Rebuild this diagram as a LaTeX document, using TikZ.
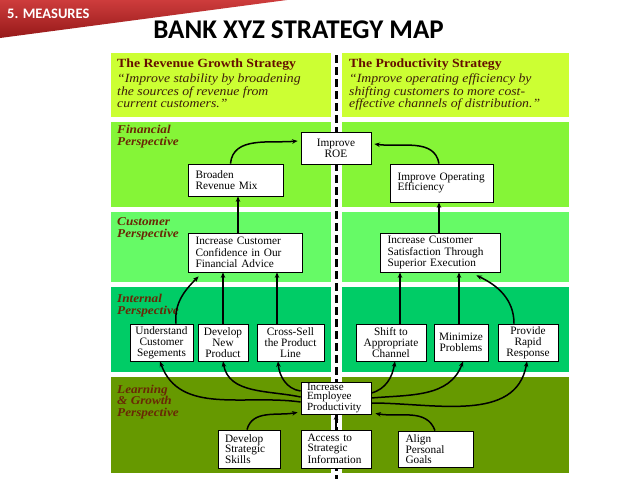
\documentclass[tikz,border=0pt]{standalone}
\usepackage{fontspec}
\setmainfont{Liberation Serif}
\newfontfamily\titlefont{Carlito}
\newfontfamily\stretchfont[FakeStretch=1.1]{Liberation Serif}
\usetikzlibrary{arrows.meta,calc}
\definecolor{stratc}{RGB}{204,255,51}
\definecolor{finc}{RGB}{133,245,55}
\definecolor{custc}{RGB}{102,250,102}
\definecolor{intc}{RGB}{0,204,102}
\definecolor{learnc}{RGB}{102,153,0}
\definecolor{brownc}{RGB}{105,40,5}
\definecolor{headc}{RGB}{100,15,0}
\definecolor{quotec}{RGB}{60,30,10}
\definecolor{bannertop}{RGB}{205,60,60}
\definecolor{bannerbot}{RGB}{150,25,25}
\tikzset{
  bx/.style={draw, fill=white, line width=0.8pt, inner ysep=0pt, font=\fontsize{11.3}{10.8}\selectfont},
  cbox/.style={bx, align=center, inner xsep=0pt},
  lbox/.style={bx, align=left, inner xsep=7.5pt, text width=#1},
  arr/.style={line width=1.5pt, -{Stealth[length=5.5pt,width=4.5pt]}},
  plabel/.style={anchor=north west, inner sep=0pt, align=left, text=brownc,
    font=\stretchfont\bfseries\itshape\fontsize{12}{12}\selectfont},
  strat/.style={anchor=north west, inner sep=0pt, align=left, text=quotec,
    font=\stretchfont\itshape\fontsize{12.5}{12.7}\selectfont},
  dashline/.style={line width=2.5pt, dash pattern=on 8pt off 4pt}
}
\begin{document}
\begin{tikzpicture}[x=1pt,y=1pt]
\useasboundingbox (0,0) rectangle (638,-479);
\fill[white] (0,0) rectangle (638,-479);
% banner
\shade[top color=bannertop, bottom color=bannerbot] (0,0) -- (287,0) -- (0,-38) -- cycle;
\node[anchor=base west, inner sep=0pt, text=white, font=\titlefont\bfseries\fontsize{14.5}{15}\selectfont] (measures) at (7,-18) {5. MEASURES};
\node[anchor=base, inner sep=0pt, font=\titlefont\bfseries\fontsize{27}{27}\selectfont] (title) at (298.5,-38) {BANK XYZ STRATEGY MAP};
% bands
\fill[stratc] (111,-53) rectangle (331,-117);
\fill[stratc] (342,-53) rectangle (569,-117);
\fill[finc] (111,-122) rectangle (331,-207);
\fill[finc] (342,-122) rectangle (569,-207);
\fill[custc] (111,-212) rectangle (331,-282);
\fill[custc] (342,-212) rectangle (569,-282);
\fill[intc] (111,-287) rectangle (331,-372);
\fill[intc] (342,-287) rectangle (569,-372);
\fill[learnc] (111,-377) rectangle (331,-473);
\fill[learnc] (342,-377) rectangle (569,-473);
% dashed divider
\draw[dashline] (336.5,-55) -- (336.5,-479);
% strategy texts
\node[strat] (revstrat) at (117,-58.5) {{\upshape\bfseries\color{headc}The Revenue Growth Strategy}\\[2.3pt]“Improve stability by broadening\\the sources of revenue from\\current customers.”};
\node[strat] (prodstrat) at (349,-58.5) {{\upshape\bfseries\color{headc}The Productivity Strategy}\\[2.3pt]“Improve operating efficiency by\\shifting customers to more cost-\\effective channels of distribution.”};
% perspective labels
\node[plabel] (lfin) at (117,-124.5) {Financial\\Perspective};
\node[plabel] (lcust) at (117,-217.5) {Customer\\Perspective};
\node[plabel] (lint) at (117,-293.5) {Internal\\Perspective};
\node[plabel, font=\stretchfont\bfseries\itshape\fontsize{12}{11.5}\selectfont] (llearn) at (117,-384.5) {Learning\\\& Growth\\Perspective};
% boxes
\node[cbox, minimum width=70, minimum height=32] (roe) at (336,-148) {Improve\\ROE};
\node[lbox=80, minimum width=95, minimum height=32] (broaden) at (235.5,-180) {Broaden\\Revenue Mix};
\node[lbox=88, minimum width=103, minimum height=38] (opeff) at (441.5,-183) {Improve Operating\\Efficiency};
\node[lbox=99, minimum width=114, minimum height=39, font=\fontsize{11.3}{11.8}\selectfont] (custconf) at (245,-252.5) {Increase Customer\\Confidence in Our\\Financial Advice};
\node[lbox=105, minimum width=120, minimum height=39, font=\fontsize{11.3}{11.8}\selectfont] (custsat) at (440,-252.5) {Increase Customer\\Satisfaction Through\\Superior Execution};
\node[cbox, minimum width=63, minimum height=37] (underst) at (161.5,-342.5) {Understand\\Customer\\Segements};
\node[cbox, minimum width=50, minimum height=37] (devnew) at (223,-342.5) {Develop\\New\\Product};
\node[cbox, minimum width=67, minimum height=37] (cross) at (290.5,-342.5) {Cross-Sell\\the Product\\Line};
\node[cbox, minimum width=70, minimum height=37] (shift) at (391,-342.5) {Shift to\\Appropriate\\Channel};
\node[cbox, minimum width=54, minimum height=37] (minim) at (461,-342.5) {Minimize\\Problems};
\node[cbox, minimum width=60, minimum height=37] (rapid) at (528,-342.5) {Provide\\Rapid\\Response};
\node[bx, align=left, inner xsep=6pt, text width=58, minimum width=70, minimum height=32, font=\fontsize{11}{9.6}\selectfont] (emp) at (336,-398) {Increase\\Employee\\Productivity};
\node[lbox=48, inner xsep=7pt, minimum width=62, minimum height=38, font=\fontsize{11.3}{10}\selectfont] (skills) at (249,-449) {Develop\\Strategic\\Skills};
\node[lbox=57, inner xsep=6.5pt, minimum width=70, minimum height=38, font=\fontsize{11.3}{10}\selectfont] (access) at (336,-449) {Access to\\Strategic\\Information};
\node[lbox=60, minimum width=75, minimum height=36, font=\fontsize{11.3}{10}\selectfont] (align) at (435.5,-449) {Align\\Personal\\Goals};
% connectors: financial
\draw[arr] ($(broaden.north)+(-5,0)$) to[out=85,in=185] ($(roe.west)+(-3,7)$);
\draw[arr] ($(opeff.north)+(-2.5,0)$) to[out=100,in=-8] ($(roe.east)+(3,4)$);
% customer -> financial
\draw[arr] ($(custconf.north)+(-7,0)$) -- ($(broaden.south)+(2.5,0)$);
\draw[arr] ($(custsat.north)+(-1,0)$) -- ($(opeff.south)+(-2.5,0)$);
% internal -> customer
\draw[arr] ($(underst.north)+(14.5,0)$) to[out=95,in=225] ($(custconf.south west)+(11,-4)$);
\draw[arr] (devnew.north) -- (devnew.north |- custconf.south);
\coordinate (crosstop) at ($(cross.north)+(-13.5,0)$);
\draw[arr] (crosstop) -- (crosstop |- custconf.south);
\coordinate (shifttop) at ($(shift.north)+(9,0)$);
\draw[arr] (shifttop) -- (shifttop |- custsat.south);
\coordinate (minimtop) at ($(minim.north)+(-2,0)$);
\draw[arr] (minimtop) -- (minimtop |- custsat.south);
\draw[arr] ($(rapid.north)+(-14,0)$) to[out=90,in=-25] ($(custsat.south east)+(-24,-3)$);
% learning -> internal
\draw[arr] ($(emp.west)+(0,-4)$) to[out=172,in=-70] ($(underst.south)+(-1.5,0)$);
\draw[arr] ($(emp.west)+(0,1)$) to[out=168,in=-80] (devnew.south);
\draw[arr] ($(emp.west)+(0,7)$) to[out=172,in=-85] ($(cross.south)+(-12.5,0)$);
\draw[arr] ($(emp.east)+(0,5)$) to[out=15,in=-100] ($(shift.south)+(4,0)$);
\draw[arr] ($(emp.east)+(0,0)$) to[out=5,in=-110] ($(minim.south)+(2,0)$);
\draw[arr] ($(emp.east)+(0,-5)$) to[out=0,in=-100] ($(rapid.south)+(-1,0)$);
% learning internal
\draw[arr] ($(skills.north)+(-2,0)$) to[out=75,in=190] ($(emp.south west)+(-3,2)$);
\draw[arr] (access.north) -- (emp.south);
\draw[arr] ($(align.north)+(-0.5,0)$) to[out=110,in=-10] ($(emp.south east)+(4,1)$);
\end{tikzpicture}
\end{document}
